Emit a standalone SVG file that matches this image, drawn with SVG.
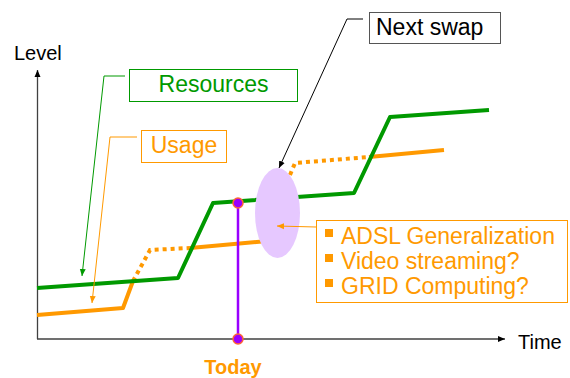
<svg xmlns="http://www.w3.org/2000/svg" width="570" height="378" viewBox="0 0 570 378">
<style>
text{font-family:"Liberation Sans",Arial,sans-serif}
.ax{stroke:#404040;stroke-width:1.3;fill:none}
.res{stroke:#009900;stroke-width:4;fill:none;stroke-linejoin:round}
.use{stroke:#FF9900;stroke-width:4;fill:none;stroke-linejoin:round}
.dot{stroke:#FF9900;stroke-width:4;fill:none;stroke-dasharray:4 4}
.lead{fill:none;stroke-width:1}
.big{font-size:23px}
</style>
<defs>
<marker id="ak" markerWidth="8" markerHeight="8" refX="7" refY="4" orient="auto" markerUnits="userSpaceOnUse"><path d="M0,1 L7,4 L0,7 Z" fill="#000"/></marker>
<marker id="ag" markerWidth="8" markerHeight="8" refX="7" refY="4" orient="auto" markerUnits="userSpaceOnUse"><path d="M0,1 L7,4 L0,7 Z" fill="#009900"/></marker>
<marker id="ao" markerWidth="8" markerHeight="8" refX="7" refY="4" orient="auto" markerUnits="userSpaceOnUse"><path d="M0,1 L7,4 L0,7 Z" fill="#FF9900"/></marker>
</defs>
<rect width="570" height="378" fill="#fff"/>
<g id="axes">
<line class="ax" x1="37.5" y1="339" x2="37.5" y2="70" marker-end="url(#ak)"/>
<line class="ax" x1="37" y1="339" x2="505" y2="339" marker-end="url(#ak)"/>
<text x="14" y="60" font-size="20">Level</text>
<text x="518" y="349" font-size="20">Time</text>
</g>
<g id="curves">
<polyline class="use" points="37,315 123,308 133,281"/>
<polyline class="dot" points="133,281 150,250 190,248"/>
<polyline class="use" points="190,248 278,240"/>
<polyline class="dot" points="290,175 295,163 369,157"/>
<polyline class="use" points="369,157 444,150"/>
<polyline class="res" points="37,288 178,278 213,203 354,193 390,117 489,110"/>
</g>
<g id="swap">
<ellipse cx="277.5" cy="213" rx="22.5" ry="45" fill="#E6C8FF"/>
</g>
<g id="today">
<line x1="238" y1="203" x2="238" y2="339" stroke="#9900FF" stroke-width="2.5"/>
<circle cx="238" cy="203" r="5" fill="#9900FF" stroke="#FF6633" stroke-width="1.5"/>
<circle cx="238" cy="339" r="5" fill="#9900FF" stroke="#FF6633" stroke-width="1.5"/>
<text x="233" y="374" font-size="20" font-weight="bold" fill="#FF9900" text-anchor="middle">Today</text>
</g>
<g id="connectors">
<polyline class="lead" stroke="#009900" points="125,76 104,76 82,276" marker-end="url(#ag)"/>
<polyline class="lead" stroke="#FF9900" points="137,137 110,137 92,303" marker-end="url(#ao)"/>
<polyline class="lead" stroke="#000" points="363,19 347,19 279,168" marker-end="url(#ak)"/>
<line class="lead" stroke="#FF9900" x1="316" y1="227" x2="277" y2="226" marker-end="url(#ao)"/>
</g>
<g id="resources">
<rect x="129.5" y="69.5" width="168" height="32" fill="#fff" stroke="#009900" stroke-width="1"/>
<text x="213.5" y="92" class="big" fill="#009900" text-anchor="middle">Resources</text>
</g>
<g id="usage">
<rect x="141.5" y="130.5" width="85" height="32" fill="#fff" stroke="#FF9900" stroke-width="1"/>
<text x="184" y="153" class="big" fill="#FF9900" text-anchor="middle">Usage</text>
</g>
<g id="nextswap">
<rect x="369.5" y="12.5" width="131" height="31" fill="#fff" stroke="#555" stroke-width="1"/>
<text x="376" y="35" class="big" fill="#000">Next swap</text>
</g>
<g id="drivers">
<rect x="316.5" y="220.5" width="251" height="82" fill="#fff" stroke="#FF9900" stroke-width="1"/>
<rect x="325" y="229" width="8" height="8" fill="#FF9900"/>
<rect x="325" y="254" width="8" height="8" fill="#FF9900"/>
<rect x="325" y="279" width="8" height="8" fill="#FF9900"/>
<text x="341" y="244" class="big" fill="#FF9900">ADSL Generalization</text>
<text x="341" y="269" class="big" fill="#FF9900">Video streaming?</text>
<text x="341" y="294" class="big" fill="#FF9900">GRID Computing?</text>
</g>
</svg>
